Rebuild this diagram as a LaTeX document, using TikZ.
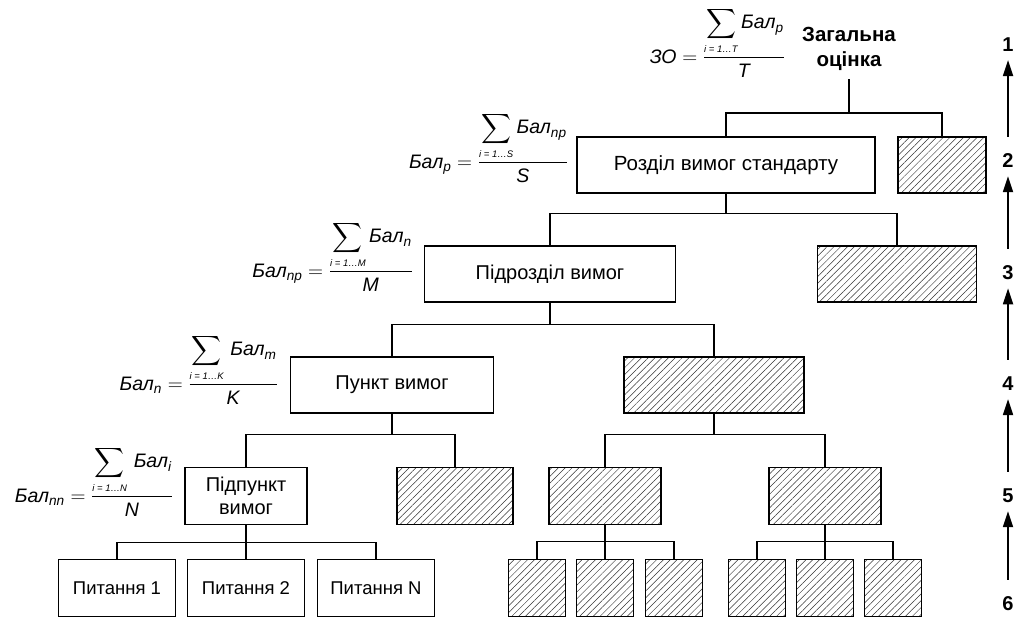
\documentclass[tikz,border=0pt]{standalone}
\usepackage{amsmath}
\usepackage{fontspec}
\setmainfont{Liberation Sans}
\usetikzlibrary{patterns.meta,arrows.meta,calc}
\newcommand{\limtext}[1]{\text{\fontsize{9.5}{10}\selectfont\itshape #1}}
\newcommand{\fsum}[3]{\dfrac{\displaystyle\sum_{\limtext{#1}}\textit{#2}}{\textit{#3}}}
\begin{document}
\begin{tikzpicture}[x=1pt,y=-1pt,
  box/.style={draw, line width=1.2pt, minimum width=#1, minimum height=56, inner sep=0pt, font=\fontsize{20}{23}\selectfont, align=center},
  hbox/.style={draw, line width=1.2pt, minimum width=#1, minimum height=56, inner sep=0pt, pattern={Lines[angle=45,distance=4.8pt,line width=0.5pt]}, pattern color=black!80},
  conn/.style={line width=1.2pt},
  fml/.style={inner sep=0pt, font=\fontsize{19.5}{23}\selectfont},
  lvl/.style={font=\bfseries\fontsize{20}{22}\selectfont, inner sep=2pt},
  uparr/.style={line width=1.8pt, -{Triangle[length=16pt,width=10pt]}}
]
\useasboundingbox (0,0) rectangle (1016,619);

% top
\node[anchor=south, align=center, inner sep=0pt, text depth=12pt, font=\bfseries\fontsize{20.5}{25}\selectfont] (zag) at (849,79) {Загальна\\оцінка};
\node[fml, anchor=base east] (f1) at (785,63) {$\textit{ЗО} = \dfrac{\smash[t]{\displaystyle\sum_{\limtext{i = 1…T}}\textit{Бал$_{\textit{p}}$}}}{\textit{T}}$};

% level 2
\node[box=298, font=\fontsize{20.5}{23}\selectfont] (r1) at (726,165) {Розділ вимог стандарту};
\node[hbox=88] (h1) at (942,165) {};
\node[fml, anchor=base east] (f2) at (568,168) {$\textit{Бал}_{\textit{p}} = \fsum{i = 1…S}{Бал$_{\textit{np}}$}{S}$};

% level 3
\node[box=251] (s1) at (550,274) {Підрозділ вимог};
\node[hbox=159] (h2) at (897,274) {};
\node[fml, anchor=base east] (f3) at (413,277) {$\textit{Бал}_{\textit{np}} = \fsum{i = 1…M}{Бал$_{\textit{n}}$}{M}$};

% level 4
\node[box=203] (p1) at (392,385) {Пункт вимог};
\node[hbox=180] (h3) at (714,385) {};
\node[fml, anchor=base east] (f4) at (278,390) {$\textit{Бал}_{\textit{n}} = \fsum{i = 1…K}{\,Бал$_{\textit{m}}$}{K}$};

% level 5
\node[box=122, minimum height=57] (pp) at (246,496) {Підпункт\\вимог};
\node[hbox=116, minimum height=57] (h4) at (455,496) {};
\node[hbox=112, minimum height=57] (h5) at (605,496) {};
\node[hbox=112, minimum height=57] (h6) at (825,496) {};
\node[fml, anchor=base east] (f5) at (173,502) {$\textit{Бал}_{\textit{nn}} = \fsum{i = 1…N}{\,Бал$_{\textit{i}}$}{N}$};

% level 6
\node[box=117, minimum height=57, font=\fontsize{18.5}{21}\selectfont] (q1) at (117,588) {Питання 1};
\node[box=117, minimum height=57, font=\fontsize{18.5}{21}\selectfont] (q2) at (246,588) {Питання 2};
\node[box=117, minimum height=57, font=\fontsize{18.5}{21}\selectfont] (q3) at (376,588) {Питання N};
\node[hbox=57, minimum height=57] (a1) at (537,588) {};
\node[hbox=57, minimum height=57] (a2) at (605,588) {};
\node[hbox=57, minimum height=57] (a3) at (674,588) {};
\node[hbox=57, minimum height=57] (b1) at (757,588) {};
\node[hbox=57, minimum height=57] (b2) at (825,588) {};
\node[hbox=57, minimum height=57] (b3) at (893,588) {};

% connectors
\draw[conn] (zag.south) -- ++(0,34) -| (r1.north);
\draw[conn] (zag.south) -- ++(0,34) -| (h1.north);
\draw[conn] (r1.south) -- ++(0,20) -| (s1.north);
\draw[conn] (r1.south) -- ++(0,20) -| (h2.north);
\draw[conn] (s1.south) -- ++(0,22) -| (p1.north);
\draw[conn] (s1.south) -- ++(0,22) -| (h3.north);
\draw[conn] (p1.south) -- ++(0,21) -| (pp.north);
\draw[conn] (p1.south) -- ++(0,21) -| (h4.north);
\draw[conn] (h3.south) -- ++(0,21) -| (h5.north);
\draw[conn] (h3.south) -- ++(0,21) -| (h6.north);
\draw[conn] (pp.south) -- ++(0,17) -| (q1.north);
\draw[conn] (pp.south) -- ++(0,17) -| (q2.north);
\draw[conn] (pp.south) -- ++(0,17) -| (q3.north);
\draw[conn] (h5.south) -- ++(0,16) -| (a1.north);
\draw[conn] (h5.south) -- ++(0,16) -| (a2.north);
\draw[conn] (h5.south) -- ++(0,16) -| (a3.north);
\draw[conn] (h6.south) -- ++(0,16) -| (b1.north);
\draw[conn] (h6.south) -- ++(0,16) -| (b2.north);
\draw[conn] (h6.south) -- ++(0,16) -| (b3.north);

% level numbers
\node[lvl] (n1) at (1008,45) {1};
\node[lvl] (n2) at (1008,161) {2};
\node[lvl] (n3) at (1008,273) {3};
\node[lvl] (n4) at (1008,384) {4};
\node[lvl] (n5) at (1008,496) {5};
\node[lvl] (n6) at (1008,604) {6};
\draw[uparr, shorten <=15pt, shorten >=6pt] (n2.north) -- (n1.south);
\draw[uparr, shorten <=15pt, shorten >=6pt] (n3.north) -- (n2.south);
\draw[uparr, shorten <=15pt, shorten >=6pt] (n4.north) -- (n3.south);
\draw[uparr, shorten <=15pt, shorten >=6pt] (n5.north) -- (n4.south);
\draw[uparr, shorten <=15pt, shorten >=6pt] (n6.north) -- (n5.south);
\end{tikzpicture}
\end{document}
